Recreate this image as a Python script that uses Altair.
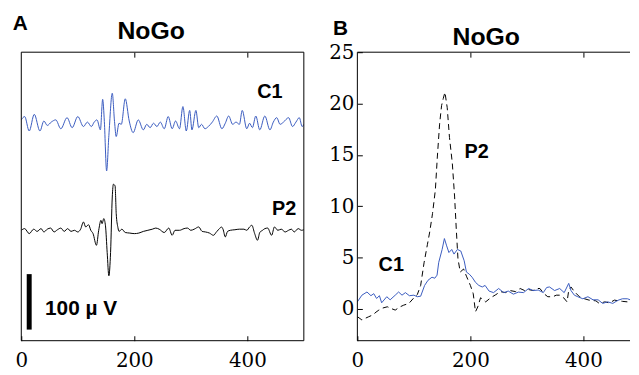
import altair as alt
import pandas as pd

# ---------------- data ----------------
# Panel A, C1 trace (time ms, microvolts relative to its baseline)
C1A_T = [0, 6, 14, 23, 33, 40, 46, 53, 61, 70, 81, 90, 100, 110, 117, 124, 129, 134, 140,
         144, 147, 151, 155, 161, 165, 168, 173, 177, 184, 191, 198, 207, 216, 222, 228,
         234, 240, 246, 253, 260, 267, 273, 280, 286, 292, 298, 302, 309, 314, 319, 325,
         331, 338, 346, 355, 361, 367, 374, 380, 386, 391, 399, 404, 409, 415, 422, 431,
         440, 446, 452, 458, 464, 473, 480, 486, 492, 497, 500]
C1A_V = [8, 14, -12, 18, -12, 6, -2, 4, 8, -8, 12, -6, 14, -4, 4, -4, 4, 8, -10,
         45, 5, -84, -20, 56, 5, -22, 2, 0, 46, 6, -15, 8, -10, 0, -6,
         2, -4, 4, -8, 14, -8, 6, -8, 32, -12, 25, -10, 25, -6, 0, -8,
         -4, 4, 15, -8, 2, 15, 0, 4, 0, 25, -8, 2, -6, 15, -10, 15,
         -10, 4, 12, 0, 4, 12, -4, 4, 12, -4, 0]

# Panel A, P2 trace
P2A_T = [0, 6, 14, 22, 28, 35, 40, 46, 52, 58, 64, 70, 76, 82, 88, 94, 100, 105, 110, 114,
         119, 123, 127, 133, 137, 141, 143, 146, 149, 152, 155, 158, 161, 163, 166, 168,
         171, 173, 178, 184, 192, 200, 208, 216, 224, 232, 238, 244, 253, 261, 267, 272,
         280, 288, 294, 300, 306, 314, 320, 326, 333, 340, 346, 350, 354, 357, 361, 365,
         370, 378, 386, 394, 399, 404, 408, 413, 418, 422, 427, 431, 436, 443, 448, 454,
         460, 467, 473, 478, 483, 490, 496, 500]
P2A_V = [0, 3, -6, 2, -2, 3, -3, 2, 4, -3, 1, 4, -2, 3, -2, 0, -3, 2, 15, 6,
         10, 0, -6, -27, 0, 18, 12, 21, 8, -40, -82, -40, 60, 83, 80, 30,
         5, -2, 2, -4, -5, -6, -5, -2, 0, 2, 4, 2, -4, 4, -9, 0,
         0, 3, 4, 0, 2, 6, -2, -3, -5, -9, -2, 2, 6, 2, -12, -2,
         0, 1, 2, 2, 0, 6, 9, -6, -18, -4, 0, 3, 4, -9, 6, 0,
         2, -3, 0, 2, -3, 3, 0, 1]

# Panel B, C1 (blue, solid)
C1B_T = [0, 8, 17, 24, 29, 34, 39, 43, 52, 58, 67, 73, 79, 85, 92, 100, 106, 112, 119, 125,
         132, 137, 141, 144, 150, 154, 158, 162, 167, 171, 177, 183, 189, 193, 198, 203,
         209, 215, 221, 226, 233, 241, 250, 259, 267, 276, 285, 294, 303, 311, 320, 329,
         335, 340, 349, 358, 366, 374, 378, 384, 390, 399, 408, 417, 426, 434, 443, 452,
         461, 469, 478, 485, 490, 496, 500]
C1B_V = [0.7, 1.35, 1.66, 1.3, 1.5, 1.03, 1.3, 0.61, 1.2, 0.9, 1.35, 1.66, 1.35, 1.6, 1.3,
         1.35, 1.2, 1.25, 2.3, 2.8, 3.1, 3.0, 3.3, 4.55, 5.8, 6.86, 6.15, 5.5, 5.8, 5.35,
         5.8, 5.65, 4.7, 3.6, 3.4, 3.1, 2.6, 2.3, 2.15, 2.3, 1.75, 1.6, 2.0, 1.6, 1.75,
         1.45, 1.65, 1.6, 2.0, 1.8, 1.85, 1.6, 2.1, 2.15, 1.8, 2.0, 1.6, 2.5, 1.8, 1.35,
         1.2, 1.0, 1.2, 0.9, 0.9, 0.55, 0.7, 0.55, 0.85, 1.0, 1.0, 0.85, 1.2, 0.85, 0.7]

# Panel B, P2 (black, dashed)
P2B_T = [0, 8, 14, 20, 27, 33, 38, 45, 53, 60, 67, 75, 82, 91, 99, 106, 112, 118, 124, 128,
         133, 138, 141.5, 145.5, 149, 152, 155, 159, 163, 168, 172, 175, 178, 182, 188,
         193, 200, 205, 209, 213, 218, 223, 227, 236, 245, 253, 262, 270, 280, 288, 296,
         303, 311, 317, 323, 330, 337, 346, 352, 358, 365, 371, 374, 378, 384, 393, 402,
         410, 422, 428, 438, 446, 455, 462, 469, 478, 487, 493, 500]
P2B_V = [-0.74, -1.06, -0.9, -0.75, -0.58, -0.3, -0.1, 0.1, 0.22, 0.05, -0.1, 0.2, 0.38,
         0.54, 1.03, 1.4, 2.3, 4.5, 6.3, 7.5, 9.3, 11.6, 14.8, 18.0, 19.8, 20.5, 21.1,
         19.6, 16.7, 14.2, 11.0, 7.8, 4.9, 3.6, 3.9, 3.2, 2.3, 1.5, -0.26, 0.2, 1.1, 0.9,
         0.7, 1.1, 1.4, 1.7, 1.6, 1.8, 1.7, 2.0, 1.8, 1.9, 1.8, 2.0, 2.0, 1.5, 1.2, 1.2,
         1.35, 1.35, 1.1, 0.7, 1.8, 2.15, 1.7, 1.2, 1.0, 0.87, 0.8, 0.55, 0.7, 0.6, 0.87,
         0.8, 0.75, 0.7, 0.87, 1.35, 0.9]

X_TICKS = [0, 200, 400]
Y_TICKS_B = [0, 5, 10, 15, 20, 25]
SCALE_BAR_UV = 100

# ---------------- layout / style constants ----------------
C1_OFF = 390      # vertical offset of C1 trace in panel A (uV)
P2_OFF = 199      # vertical offset of P2 trace in panel A (uV)
BAR_T = 14
BAR_Y0 = 20
PX_PER_MS = 0.57
W, H = 285, 291
WB = 275
BLUE = "#3a5bbf"
SANS = "Liberation Sans"
SERIF = "DejaVu Serif"

xA = alt.Scale(domain=[0, W / PX_PER_MS], nice=False, zero=False)
yA = alt.Scale(domain=[0, 520], nice=False, zero=False)
xB = alt.Scale(domain=[0, WB / PX_PER_MS], nice=False, zero=False)
yB = alt.Scale(domain=[-3.08, 25], nice=False, zero=False)


def ax_bottom():
    return alt.Axis(orient="bottom", values=X_TICKS, domain=False, grid=False,
                    tickSize=5, offset=-5, tickColor="black", tickWidth=1,
                    labelFont=SERIF, labelFontSize=20, labelColor="black",
                    labelPadding=10, labelAngle=0, labelFlush=False,
                    labelOverlap=False, title=None)


def ax_top():
    return alt.Axis(orient="top", values=[200, 400], domain=False, grid=False,
                    tickSize=5, offset=-5, tickColor="black", tickWidth=1,
                    labels=False, title=None)


def note(txt, x, y, size=21, opacity=1.0):
    return alt.Chart(pd.DataFrame({"s": [txt]})).mark_text(
        font=SANS, fontSize=size, fontWeight="bold", color="black",
        opacity=opacity).encode(x=alt.value(x), y=alt.value(y), text="s:N")


def frame(w, h, sides):
    """Panel border lines drawn as rules (one layer per side)."""
    one = pd.DataFrame({"k": [0]})
    enc = {
        "top": dict(x=alt.value(0), x2=alt.value(w), y=alt.value(0)),
        "bottom": dict(x=alt.value(0), x2=alt.value(w), y=alt.value(h)),
        "left": dict(x=alt.value(0), y=alt.value(0), y2=alt.value(h)),
        "right": dict(x=alt.value(w), y=alt.value(0), y2=alt.value(h)),
    }
    return [alt.Chart(one).mark_rule(color="black", strokeWidth=1).encode(**enc[s])
            for s in sides]


# ---------------- panel A ----------------
dC1A = pd.DataFrame({"t": C1A_T, "y": [v + C1_OFF for v in C1A_V]})
dP2A = pd.DataFrame({"t": P2A_T, "y": [v + P2_OFF for v in P2A_V]})
dBar = pd.DataFrame({"t": [BAR_T], "y": [BAR_Y0], "y2": [BAR_Y0 + SCALE_BAR_UV]})
dLabA = pd.DataFrame({"t": [440, 465], "y": [449, 237], "s": ["C1", "P2"]})
dUnit = pd.DataFrame({"t": [42], "y": [57], "s": ["100 \u00b5 V"]})

a_c1 = alt.Chart(dC1A).mark_line(color=BLUE, strokeWidth=1, clip=True,
                                 interpolate="monotone").encode(
    x=alt.X("t:Q", scale=xA, axis=ax_bottom()),
    y=alt.Y("y:Q", scale=yA, axis=None))
a_p2 = alt.Chart(dP2A).mark_line(color="black", strokeWidth=1, clip=True,
                                 interpolate="monotone").encode(
    x=alt.X("t:Q", scale=xA, axis=ax_top()),
    y=alt.Y("y:Q", scale=yA, axis=None))
a_bar = alt.Chart(dBar).mark_rule(color="black", strokeWidth=5, strokeCap="butt").encode(
    x=alt.X("t:Q", scale=xA, axis=None),
    y=alt.Y("y:Q", scale=yA, axis=None), y2="y2:Q")
a_lab = alt.Chart(dLabA).mark_text(font=SANS, fontSize=20, fontWeight="bold",
                                   color="black").encode(
    x=alt.X("t:Q", scale=xA, axis=None),
    y=alt.Y("y:Q", scale=yA, axis=None), text="s:N")
a_unit = alt.Chart(dUnit).mark_text(font=SANS, fontSize=21, fontWeight="bold",
                                    color="black", align="left").encode(
    x=alt.X("t:Q", scale=xA, axis=None),
    y=alt.Y("y:Q", scale=yA, axis=None), text="s:N")

panelA = alt.layer(a_c1, a_p2, a_bar, a_lab, a_unit,
                   *frame(W, H, ["top", "bottom", "left", "right"]),
                   note("A", -1, -28),
                   note("NoGo", 131, -21.5, size=25)).properties(
    width=W, height=H).resolve_axis(x="independent", y="independent")

# ---------------- panel B ----------------
dC1B = pd.DataFrame({"t": C1B_T, "v": C1B_V})
dP2B = pd.DataFrame({"t": P2B_T, "v": P2B_V})
dLabB = pd.DataFrame({"t": [211, 60], "v": [15.3, 4.3], "s": ["P2", "C1"]})

b_p2 = alt.Chart(dP2B).mark_line(color="black", strokeWidth=1, clip=True,
                                 strokeDash=[6, 4]).encode(
    x=alt.X("t:Q", scale=xB, axis=ax_top()),
    y=alt.Y("v:Q", scale=yB, axis=None))
b_c1 = alt.Chart(dC1B).mark_line(color=BLUE, strokeWidth=1, clip=True).encode(
    x=alt.X("t:Q", scale=xB, axis=ax_bottom()),
    y=alt.Y("v:Q", scale=yB,
            axis=alt.Axis(orient="left", values=Y_TICKS_B, domain=False, grid=False,
                          tickSize=5, offset=-5, tickColor="black",
                          labelFont=SERIF, labelFontSize=20, labelColor="black",
                          labelPadding=3.5, labelOverlap=False, title=None)))
b_lab = alt.Chart(dLabB).mark_text(font=SANS, fontSize=20, fontWeight="bold",
                                   color="black").encode(
    x=alt.X("t:Q", scale=xB, axis=None),
    y=alt.Y("v:Q", scale=yB, axis=None), text="s:N")

panelB = alt.layer(b_p2, b_c1, b_lab,
                   *frame(WB, H, ["top", "bottom", "left"]),
                   note("B", -17, -23.3),
                   note("NoGo", 130, -15.5, size=25),
                   note("A", 100, -28, opacity=0.0)).properties(
    width=WB, height=H).resolve_axis(x="independent", y="independent")

chart = alt.hconcat(panelA, panelB, spacing=23).properties(
    padding={"left": 3.4, "top": 3, "right": 0, "bottom": 0},
    background="white"
).configure_view(stroke="transparent")

chart.save("out.html", embed_options={"renderer": "svg", "actions": False})
